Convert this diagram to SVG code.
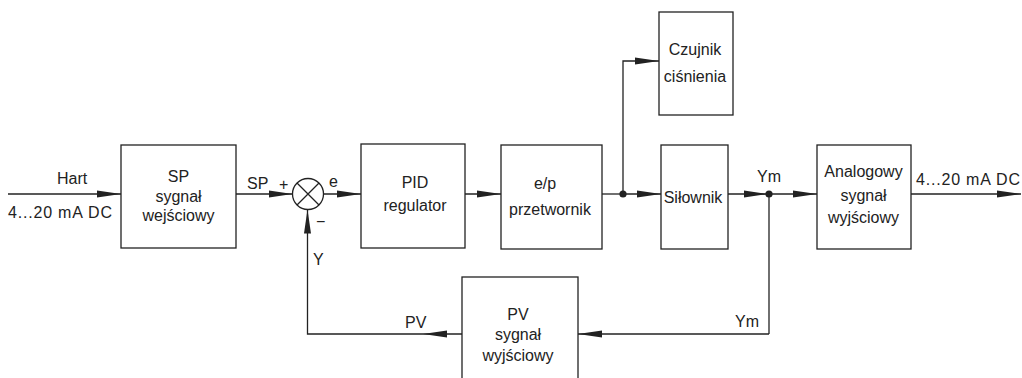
<svg xmlns="http://www.w3.org/2000/svg" width="1022" height="378" viewBox="0 0 1022 378">
<style>
.box{fill:#fff;stroke:#222;stroke-width:1.3}
.ln{fill:none;stroke:#222;stroke-width:1.3}
.arr{fill:none;stroke:#222;stroke-width:1.3;marker-end:url(#ah)}
text{font-family:"Liberation Sans",Arial,sans-serif;font-size:16px;fill:#222}
.c{text-anchor:middle}
.wide{letter-spacing:0.8px}
.dot{fill:#222}
</style>
<defs>
<marker id="ah" viewBox="0 0 24 8" refX="24" refY="4" markerWidth="24" markerHeight="8" markerUnits="userSpaceOnUse" orient="auto">
<path d="M0,0.5 L24,4 L0,7.5 z" fill="#222"/>
</marker>
</defs>
<rect width="1022" height="378" fill="#fff"/>
<g id="connectors">
<path class="arr" d="M8,194 H121"/>
<path class="arr" d="M236,194 H292.5"/>
<path class="arr" d="M323.5,194 H361"/>
<path class="arr" d="M465,194 H501"/>
<path class="ln" d="M602,194 H623"/>
<path class="arr" d="M623,194 H661"/>
<path class="arr" d="M623,194 V61 H659"/>
<path class="arr" d="M728,194 H768"/>
<path class="arr" d="M769,194 H817"/>
<path class="arr" d="M911,194 H1021"/>
<path class="ln" d="M769,194 V334"/>
<path class="arr" d="M769,334 H578"/>
<path class="arr" d="M462,334 H423"/>
<path class="arr" d="M423,334 H307.5 V209.5"/>
<circle class="dot" cx="623" cy="194" r="3.6"/>
<circle class="dot" cx="769" cy="194" r="3.6"/>
<text x="57" y="184">Hart</text>
<text x="8" y="218" class="wide">4...20 mA DC</text>
<text x="247" y="189">SP</text>
<text x="279" y="190">+</text>
<text x="329" y="187">e</text>
<text x="316" y="227">−</text>
<text x="313" y="265">Y</text>
<text x="757" y="182">Ym</text>
<text x="916" y="185" class="wide">4...20 mA DC</text>
<text x="405" y="328">PV</text>
<text x="735" y="327">Ym</text>
</g>
<g id="sum">
<circle cx="308" cy="194" r="15.5" class="ln"/>
<path class="ln" d="M297,183 L319,205 M319,183 L297,205"/>
</g>
<g id="sp">
<rect class="box" x="121" y="145" width="115" height="103"/>
<text class="c" x="178.5" y="182">SP</text>
<text class="c" x="178.5" y="202">sygnał</text>
<text class="c" x="178.5" y="221">wejściowy</text>
</g>
<g id="pid">
<rect class="box" x="361" y="144" width="104" height="104"/>
<text class="c" x="415" y="188">PID</text>
<text class="c" x="415" y="210.5">regulator</text>
</g>
<g id="ep">
<rect class="box" x="501" y="145" width="101" height="104"/>
<text class="c" x="545" y="189">e/p</text>
<text class="c" x="550" y="215">przetwornik</text>
</g>
<g id="czujnik">
<rect class="box" x="659" y="12" width="74" height="103"/>
<text class="c" x="695" y="55">Czujnik</text>
<text class="c" x="695" y="81.5">ciśnienia</text>
</g>
<g id="silownik">
<rect class="box" x="661" y="145" width="67" height="104"/>
<text class="c" x="693" y="203">Siłownik</text>
</g>
<g id="analog">
<rect class="box" x="817" y="145" width="94" height="104"/>
<text class="c" x="863.5" y="177">Analogowy</text>
<text class="c" x="863.5" y="201">sygnał</text>
<text class="c" x="863.5" y="223">wyjściowy</text>
</g>
<g id="pv">
<rect class="box" x="462" y="277" width="116" height="115"/>
<text class="c" x="518" y="320">PV</text>
<text class="c" x="518" y="340">sygnał</text>
<text class="c" x="518" y="361">wyjściowy</text>
</g>
</svg>
